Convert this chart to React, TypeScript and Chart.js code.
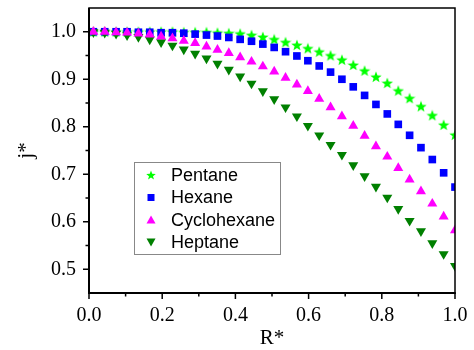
import React, { useEffect, useRef } from 'react';
import { Chart, registerables } from 'chart.js';

Chart.register(...registerables);

// ---- data ----
const rStar = [
  0.012, 0.043, 0.074, 0.104, 0.135, 0.166, 0.197, 0.228, 0.259, 0.29, 0.321,
  0.351, 0.382, 0.413, 0.444, 0.475, 0.506, 0.537, 0.568, 0.598, 0.629, 0.66,
  0.691, 0.722, 0.753, 0.784, 0.815, 0.845, 0.876, 0.907, 0.938, 0.969, 1.0,
];
const pentane = [
  1.0, 1.0, 1.0, 1.0, 1.0, 1.0, 1.0, 1.0, 0.999, 0.999, 0.999, 0.998, 0.997,
  0.996, 0.993, 0.989, 0.984, 0.978, 0.972, 0.965, 0.958, 0.95, 0.941, 0.93,
  0.918, 0.905, 0.892, 0.876, 0.86, 0.843, 0.824, 0.804, 0.783,
];
const hexane = [
  1.0, 1.0, 1.0, 1.0, 0.999, 0.999, 0.998, 0.998, 0.997, 0.995, 0.993, 0.991,
  0.988, 0.984, 0.98, 0.974, 0.967, 0.958, 0.949, 0.939, 0.928, 0.915, 0.9,
  0.884, 0.866, 0.847, 0.827, 0.805, 0.782, 0.756, 0.731, 0.703, 0.673,
];
const cyclohexane = [
  1.0, 1.0, 0.999, 0.998, 0.996, 0.994, 0.99, 0.986, 0.981, 0.976, 0.969,
  0.962, 0.955, 0.946, 0.937, 0.927, 0.916, 0.903, 0.889, 0.875, 0.859, 0.841,
  0.822, 0.802, 0.781, 0.759, 0.737, 0.713, 0.689, 0.664, 0.638, 0.611, 0.582,
];
const heptane = [
  0.999, 0.998, 0.996, 0.993, 0.989, 0.984, 0.978, 0.971, 0.963, 0.954, 0.944,
  0.933, 0.92, 0.906, 0.891, 0.875, 0.858, 0.841, 0.822, 0.802, 0.782, 0.762,
  0.741, 0.719, 0.696, 0.674, 0.651, 0.627, 0.602, 0.58, 0.555, 0.532, 0.507,
];
const seriesNames = ['Pentane', 'Hexane', 'Cyclohexane', 'Heptane'];
const xMajorTicks = [0, 0.2, 0.4, 0.6, 0.8, 1.0];
const xMinorTicks = [0.1, 0.3, 0.5, 0.7, 0.9];
const yMajorTicks = [0.5, 0.6, 0.7, 0.8, 0.9, 1.0];
const yMinorTicks = [0.55, 0.65, 0.75, 0.85, 0.95];

// ---- styles ----
const C_PENT = '#00ff00';
const C_HEX = '#0000ff';
const C_CYC = '#ff00ff';
const C_HEP = '#008000';
const SERIF = "'Times New Roman', 'Liberation Serif', serif";
const SANS = "Arial, 'Liberation Sans', sans-serif";

function makeStar(color: string, size: number) {
  const c = document.createElement('canvas');
  c.width = size;
  c.height = size;
  const ctx = c.getContext('2d')!;
  const cx = size / 2;
  const cy = size / 2 + 0.5;
  const ro = size / 2;
  const ri = ro * 0.42;
  ctx.beginPath();
  for (let i = 0; i < 10; i++) {
    const r = i % 2 === 0 ? ro : ri;
    const a = -Math.PI / 2 + (i * Math.PI) / 5;
    ctx.lineTo(cx + r * Math.cos(a), cy + r * Math.sin(a));
  }
  ctx.closePath();
  ctx.fillStyle = color;
  ctx.fill();
  return c;
}

function toPts(ys: number[]) {
  return ys.map((v, i) => ({ x: rStar[i], y: v }));
}

export default function App() {
  const ref = useRef<HTMLCanvasElement | null>(null);

  useEffect(() => {
    document.body.style.margin = '0';
    const canvas = ref.current!;
    const star = makeStar(C_PENT, 12);
    const starSmall = makeStar(C_PENT, 10);

    const frame = {
      id: 'frameTicks',
      afterDraw(chart: any) {
        const { ctx, chartArea: a, scales } = chart;
        const x = scales.x;
        const y = scales.y;
        ctx.save();
        ctx.strokeStyle = '#000';
        ctx.lineWidth = 1.5;
        ctx.strokeRect(a.left, a.top, a.right - a.left, a.bottom - a.top);
        ctx.lineWidth = 2;
        ctx.beginPath();
        ctx.moveTo(a.left, a.top);
        ctx.lineTo(a.left, a.bottom);
        ctx.lineTo(a.right + 0.75, a.bottom);
        ctx.stroke();
        ctx.lineWidth = 1.5;
        ctx.beginPath();
        xMajorTicks.forEach((v) => {
          const p = x.getPixelForValue(v);
          ctx.moveTo(p, a.bottom);
          ctx.lineTo(p, a.bottom + 6);
        });
        xMinorTicks.forEach((v) => {
          const p = x.getPixelForValue(v);
          ctx.moveTo(p, a.bottom);
          ctx.lineTo(p, a.bottom + 3.5);
        });
        yMajorTicks.forEach((v) => {
          const p = y.getPixelForValue(v);
          ctx.moveTo(a.left, p);
          ctx.lineTo(a.left - 6, p);
        });
        yMinorTicks.forEach((v) => {
          const p = y.getPixelForValue(v);
          ctx.moveTo(a.left, p);
          ctx.lineTo(a.left - 3.5, p);
        });
        ctx.stroke();
        ctx.restore();
      },
    };

    const legend = {
      id: 'customLegend',
      afterDraw(chart: any) {
        const { ctx } = chart;
        ctx.save();
        ctx.strokeStyle = '#888';
        ctx.lineWidth = 1;
        ctx.strokeRect(134.5, 162.5, 146, 92);
        const rows = [175, 197.5, 220, 242];
        const mx = 151;
        ctx.font = `18px ${SANS}`;
        ctx.fillStyle = '#000';
        ctx.textBaseline = 'middle';
        ctx.textAlign = 'left';
        seriesNames.forEach((name, i) => {
          const yy = rows[i];
          ctx.save();
          if (i === 0) {
            ctx.drawImage(starSmall, mx - 5, yy - 5);
          } else if (i === 1) {
            ctx.fillStyle = C_HEX;
            ctx.fillRect(mx - 3.5, yy - 3.5, 7, 7);
          } else if (i === 2) {
            ctx.fillStyle = C_CYC;
            ctx.beginPath();
            ctx.moveTo(mx, yy - 4.5);
            ctx.lineTo(mx + 4.5, yy + 3.5);
            ctx.lineTo(mx - 4.5, yy + 3.5);
            ctx.closePath();
            ctx.fill();
          } else {
            ctx.fillStyle = C_HEP;
            ctx.beginPath();
            ctx.moveTo(mx, yy + 4.5);
            ctx.lineTo(mx + 4.5, yy - 3.5);
            ctx.lineTo(mx - 4.5, yy - 3.5);
            ctx.closePath();
            ctx.fill();
          }
          ctx.restore();
          ctx.fillText(name, 171, yy + 1);
        });
        ctx.restore();
      },
    };

    const common = { showLine: false, borderWidth: 0, pointBorderWidth: 0, clip: 0 };

    const chart = new Chart(canvas, {
      type: 'scatter',
      data: {
        datasets: [
          {
            ...common,
            label: seriesNames[2],
            data: toPts(cyclohexane),
            pointStyle: 'triangle',
            pointRadius: 5.8,
            backgroundColor: C_CYC,
            borderColor: C_CYC,
          },
          {
            ...common,
            label: seriesNames[3],
            data: toPts(heptane),
            pointStyle: 'triangle',
            rotation: 180,
            pointRadius: 5.8,
            backgroundColor: C_HEP,
            borderColor: C_HEP,
          },
          {
            ...common,
            label: seriesNames[1],
            data: toPts(hexane),
            pointStyle: 'rect',
            pointRadius: 5.4,
            backgroundColor: C_HEX,
            borderColor: C_HEX,
          },
          {
            ...common,
            label: seriesNames[0],
            data: toPts(pentane),
            pointStyle: star as any,
            pointRadius: 6,
            backgroundColor: C_PENT,
            borderColor: C_PENT,
          },
        ] as any,
      },
      options: {
        animation: false,
        responsive: false,
        devicePixelRatio: 1,
        layout: { padding: { top: 8, right: 19, left: 0, bottom: 0 } },
        plugins: { legend: { display: false }, tooltip: { enabled: false } },
        scales: {
          x: {
            type: 'linear',
            min: 0,
            max: 1,
            afterBuildTicks: (s: any) => {
              s.ticks = xMajorTicks.map((v) => ({ value: v }));
            },
            afterFit: (s: any) => {
              s.height = 57;
              s.paddingLeft = 0;
              s.paddingRight = 0;
              s.paddingTop = 0;
              s.paddingBottom = 0;
            },
            grid: { display: false, drawTicks: false },
            border: { display: false },
            ticks: {
              color: '#000',
              padding: 11,
              font: { family: SERIF, size: 20 },
              callback: (v: any) => Number(v).toFixed(1),
              maxRotation: 0,
            },
            title: {
              display: true,
              text: 'R*',
              color: '#000',
              font: { family: SERIF, size: 21 },
              padding: { top: 0, bottom: -1 },
            },
          },
          y: {
            type: 'linear',
            min: 0.45,
            max: 1.05,
            afterBuildTicks: (s: any) => {
              s.ticks = yMajorTicks.map((v) => ({ value: v }));
            },
            afterFit: (s: any) => {
              s.width = 89;
              s.paddingLeft = 0;
              s.paddingRight = 0;
              s.paddingTop = 0;
              s.paddingBottom = 0;
            },
            grid: { display: false, drawTicks: false },
            border: { display: false },
            ticks: {
              color: '#000',
              padding: 13,
              font: { family: SERIF, size: 20 },
              callback: (v: any) => Number(v).toFixed(1),
            },
            title: {
              display: true,
              text: 'j*',
              color: '#000',
              font: { family: SERIF, size: 21 },
              padding: { top: 14, bottom: 0 },
            },
          },
        },
      } as any,
      plugins: [frame, legend],
    });
    return () => chart.destroy();
  }, []);

  return (
    <div style={{ width: 474, height: 350 }}>
      <canvas ref={ref} width={474} height={350} style={{ width: 474, height: 350, display: 'block' }} />
    </div>
  );
}
